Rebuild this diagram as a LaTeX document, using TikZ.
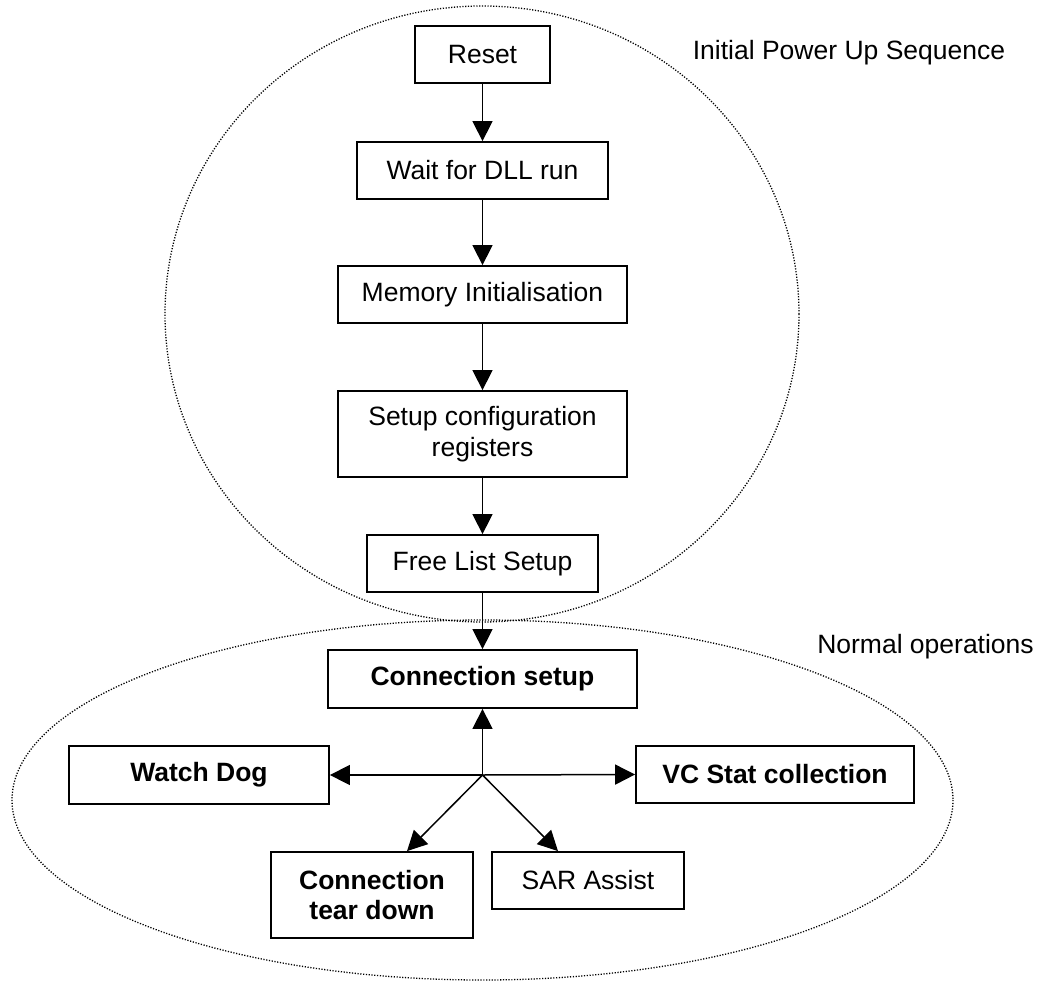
\documentclass[tikz,border=0pt]{standalone}
\usepackage{fontspec}
\setmainfont{Liberation Sans}
\usetikzlibrary{arrows.meta}
\begin{document}
\begin{tikzpicture}[x=1pt,y=-1pt,
  every node/.style={font=\fontsize{26.5pt}{31pt}\selectfont},
  stepbox/.style={draw,line width=1.8pt,fill=white,inner sep=0pt,align=center},
  boldbox/.style={stepbox,font=\fontsize{26.5pt}{30pt}\selectfont\bfseries},
  flow/.style={line width=1.5pt,-{Triangle[length=20pt,width=20pt]}},
  region/.style={line width=1.3pt,dash pattern=on 1.2pt off 1.6pt},
  caption/.style={inner sep=0pt}]
\useasboundingbox (0,0) rectangle (1039,982);

% dotted regions
\draw[region] (482,314) ellipse [x radius=317, y radius=308];
\draw[region] (482.5,800) ellipse [x radius=470.5, y radius=180];

\node[caption] (lblinit) at (849,53) {Initial Power Up Sequence};
\node[caption] (lblnorm) at (925.5,647) {Normal operations};

% power-up chain
\node[stepbox,minimum width=135pt,minimum height=57pt] (reset) at (482.5,54.5) {Reset};
\node[stepbox,minimum width=251pt,minimum height=57pt] (wait) at (482.5,170.5) {Wait for DLL run};
\node[stepbox,minimum width=289pt,minimum height=57pt] (mem) at (482.5,294.5) {Memory Initialisation};
\node[stepbox,minimum width=289pt,minimum height=86pt] (setup) at (482.5,434) {Setup configuration\\registers};
\node[stepbox,minimum width=231pt,minimum height=57pt] (free) at (482.5,563.5) {Free List Setup};

% normal operations
\node[boldbox,minimum width=309pt,minimum height=58pt] (conn) at (482.5,679) {Connection setup};
\node[boldbox,minimum width=260pt,minimum height=58pt] (watch) at (199,775) {Watch Dog};
\node[boldbox,minimum width=278pt,minimum height=57pt] (vc) at (775,774.5) {VC Stat collection};
\node[boldbox,minimum width=202pt,minimum height=86pt] (tear) at (372,895) {Connection\\tear down};
\node[stepbox,minimum width=192pt,minimum height=57pt] (sar) at (588,880.5) {SAR Assist};
\coordinate (hub) at (482.5,775);

\draw[flow] (reset) -- (wait);
\draw[flow] (wait) -- (mem);
\draw[flow] (mem) -- (setup);
\draw[flow] (setup) -- (free);
\draw[flow] (free) -- (conn);
\draw[flow] (hub) -- (conn.south);
\draw[flow] (hub) -- (watch.east);
\draw[flow] (hub) -- (vc.west);
\draw[flow] (hub) -- ([xshift=35pt]tear.north);
\draw[flow] (hub) -- ([xshift=-30pt]sar.north);
\end{tikzpicture}
\end{document}
